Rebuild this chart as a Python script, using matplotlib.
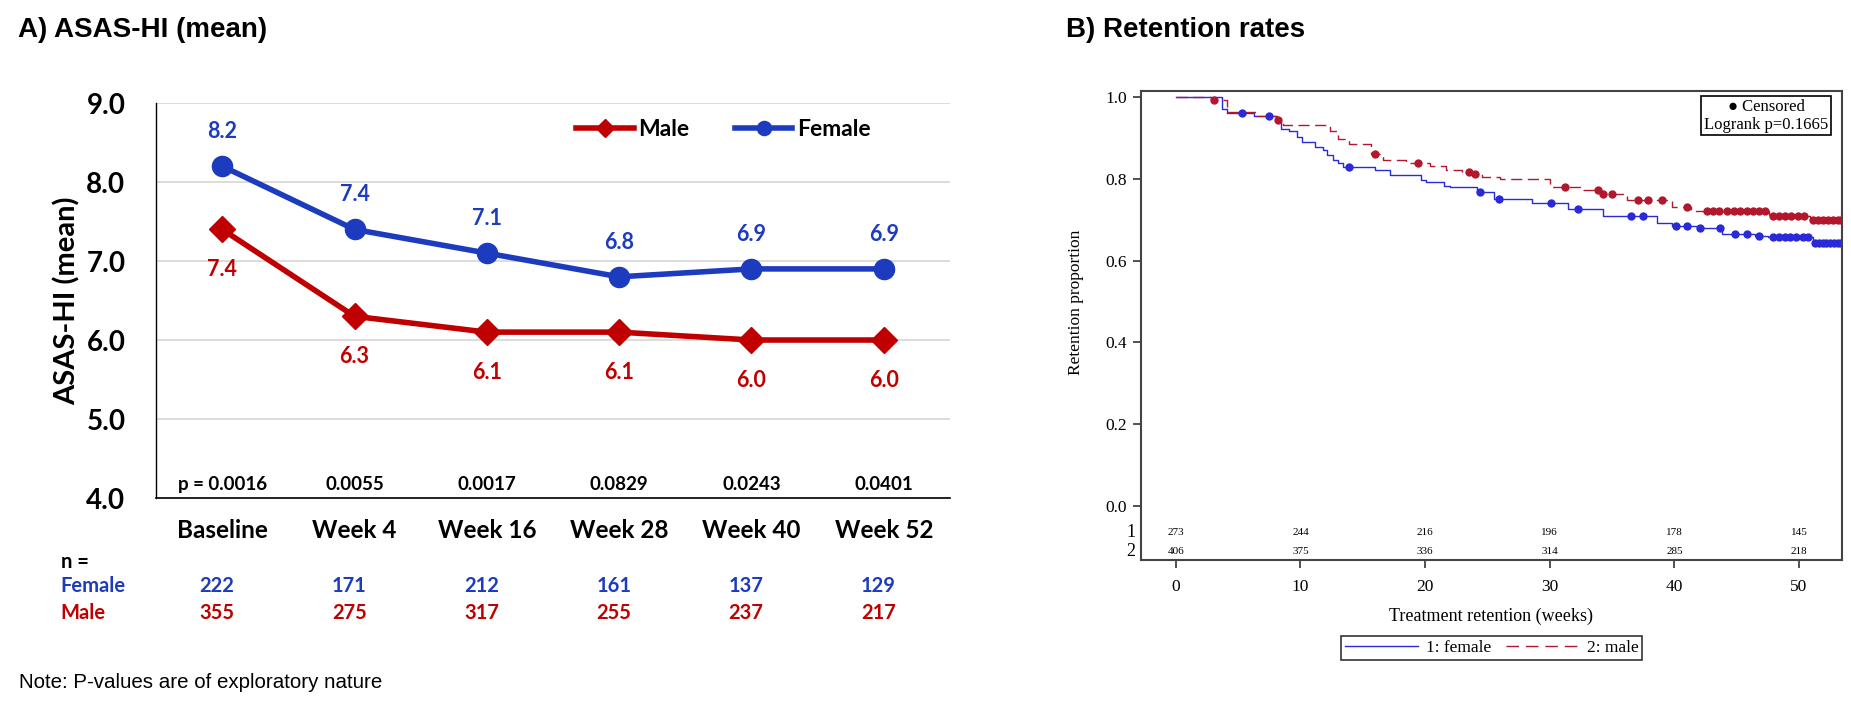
import numpy as np
import matplotlib.pyplot as plt
from matplotlib.lines import Line2D
from matplotlib.transforms import blended_transform_factory

###############################################################################
# Panel A data: ASAS-HI means by visit
visits = ['Baseline', 'Week 4', 'Week 16', 'Week 28', 'Week 40', 'Week 52']
male_mean = [7.4, 6.3, 6.1, 6.1, 6.0, 6.0]
female_mean = [8.2, 7.4, 7.1, 6.8, 6.9, 6.9]
p_values = ['p = 0.0016', '0.0055', '0.0017', '0.0829', '0.0243', '0.0401']
n_female = [222, 171, 212, 161, 137, 129]
n_male = [355, 275, 317, 255, 237, 217]

###############################################################################
# Panel B data: Kaplan-Meier retention
fem_t = [0, 3.7, 4.1, 6.3, 8.1, 8.4, 9.1, 9.7, 10.1, 11.2, 11.8, 12.1, 12.6,
         13.0, 13.4, 16.0, 17.2, 19.7, 20.1, 21.5, 22.0, 24.2, 25.5, 28.6,
         31.5, 34.3, 38.6, 39.8, 41.8, 43.8, 46.5, 47.5, 51.1]
fem_s = [1.0, 0.970, 0.962, 0.953, 0.940, 0.923, 0.918, 0.903, 0.891, 0.878,
         0.870, 0.858, 0.846, 0.838, 0.828, 0.823, 0.809, 0.797, 0.793, 0.782,
         0.779, 0.767, 0.752, 0.740, 0.726, 0.709, 0.693, 0.686, 0.680, 0.666,
         0.661, 0.657, 0.643]
fem_cens = [5.3, 7.5, 13.9, 24.4, 25.9, 30.1, 32.3, 36.5, 37.5, 40.1, 41.0,
            42.1, 43.7, 44.9, 45.8, 46.8, 47.9, 48.4, 48.9, 49.3, 49.8, 50.3,
            50.7, 51.3, 51.6, 51.9, 52.2, 52.5, 52.8, 53.1, 53.4]

male_t = [0, 2.8, 4.1, 6.5, 8.0, 8.6, 12.4, 13.0, 13.9, 15.7, 16.6, 18.5,
          20.4, 21.7, 23.0, 23.8, 24.6, 26.0, 30.0, 32.5, 34.1, 36.2, 39.8,
          41.3, 47.6, 50.9]
male_s = [1.0, 0.993, 0.963, 0.955, 0.944, 0.933, 0.917, 0.897, 0.886, 0.861,
          0.846, 0.840, 0.831, 0.823, 0.816, 0.811, 0.805, 0.799, 0.781, 0.773,
          0.763, 0.749, 0.732, 0.721, 0.710, 0.699]
male_cens = [3.05, 8.2, 16.0, 19.4, 23.5, 24.0, 31.2, 33.9, 34.3, 35.0, 37.1,
             37.9, 39.0, 41.0, 42.6, 43.1, 43.6, 44.2, 44.8, 45.3, 45.8, 46.3,
             46.8, 47.3, 47.9, 48.4, 48.9, 49.4, 49.9, 50.4, 51.1, 51.5, 51.9,
             52.3, 52.7, 53.1, 53.4]
km_end = 53.4

risk_weeks = [0, 10, 20, 30, 40, 50]
risk_female = [273, 244, 216, 196, 178, 145]
risk_male = [406, 375, 336, 314, 285, 218]
logrank_p = 0.1665

###############################################################################
# Styles
RED = '#C00000'
BLUE = '#1C3BBF'
KM_BLUE = '#2A2AD8'
KM_RED = '#B3172D'
CAL = ['Lato', 'DejaVu Sans']
NARROW = ['Liberation Sans', 'DejaVu Sans']
SERIF = ['Liberation Serif', 'DejaVu Serif']

fig = plt.figure(figsize=(18.51, 7.07), dpi=100)

fig.text(0.0097, 1 - 30 / 707, 'A) ASAS-HI (mean)', family=NARROW,
         fontweight='bold', fontsize=20, va='center')
fig.text(0.576, 1 - 30 / 707, 'B) Retention rates', family=NARROW,
         fontweight='bold', fontsize=20, va='center')
fig.text(0.0103, 1 - 682 / 707, 'Note: P-values are of exploratory nature',
         family=NARROW, fontsize=14.8, va='center')

###############################################################################
# Panel A
ax = fig.add_axes([0.0843, 0.2956, 0.4289, 0.5587])
x = np.arange(len(visits))

ax.plot(x, male_mean, color=RED, lw=4, marker='D', ms=13,
        label='Male', zorder=3, clip_on=False)
ax.plot(x, female_mean, color=BLUE, lw=4, marker='o', ms=14.5,
        label='Female', zorder=3, clip_on=False)

for i in x:
    ax.annotate(f'{female_mean[i]:.1f}', (i, female_mean[i]),
                xytext=(0, 25), textcoords='offset points', ha='center',
                va='center', color=BLUE, fontsize=15.5, fontweight='bold',
                family=CAL)
    ax.annotate(f'{male_mean[i]:.1f}', (i, male_mean[i]),
                xytext=(0, -29), textcoords='offset points', ha='center',
                va='center', color=RED, fontsize=15.5, fontweight='bold',
                family=CAL)
    ax.text(i, 4.17, p_values[i], ha='center', va='center', fontsize=13.5,
            fontweight='bold', family=CAL)

ax.set_xlim(-0.5, 5.5)
ax.set_ylim(4, 9)
ax.set_xticks(x)
ax.set_xticklabels(visits, family=CAL, fontweight='bold', fontsize=17.5)
ax.set_yticks(np.arange(4, 10))
ax.set_yticklabels([f'{v:.1f}' for v in np.arange(4, 10)], family=CAL,
                   fontweight='bold', fontsize=20)
ax.tick_params(axis='both', length=0)
ax.tick_params(axis='x', pad=15)
ax.tick_params(axis='y', pad=22)
ax.yaxis.grid(True, color='#D9D9D9', lw=1.3)
ax.set_axisbelow(True)
for side in ['top', 'right']:
    ax.spines[side].set_visible(False)
ax.spines['left'].set_linewidth(1.0)
ax.spines['bottom'].set_linewidth(1.2)
ax.set_ylabel('ASAS-HI (mean)', family=CAL, fontweight='bold', fontsize=21,
              labelpad=4)

ax.legend(loc='center left', bbox_to_anchor=(0.515, 0.934), ncol=2,
          frameon=False, borderpad=0, handlelength=2.5, handletextpad=0.2,
          columnspacing=2.0, markerscale=0.7,
          prop={'family': CAL, 'weight': 'bold', 'size': 16.5})

# sample sizes below the axis
tr = blended_transform_factory(ax.transData, ax.transAxes)
ax.text(-1.22, -0.162, 'n =', transform=tr, ha='left', va='center',
        fontsize=14.5, fontweight='bold', family=CAL)
ax.text(-1.22, -0.223, 'Female', transform=tr, ha='left', va='center',
        fontsize=14.5, fontweight='bold', family=CAL, color=BLUE)
ax.text(-1.22, -0.291, 'Male', transform=tr, ha='left', va='center',
        fontsize=14.5, fontweight='bold', family=CAL, color=RED)
for i in x:
    ax.text(i - 0.04, -0.223, str(n_female[i]), transform=tr, ha='center',
            va='center', fontsize=14.5, fontweight='bold', family=CAL,
            color=BLUE)
    ax.text(i - 0.04, -0.291, str(n_male[i]), transform=tr, ha='center',
            va='center', fontsize=14.5, fontweight='bold', family=CAL,
            color=RED)

###############################################################################
# Panel B
bx = fig.add_axes([0.6164, 0.2079, 0.3787, 0.6634])


def censor_y(t, s, cens):
    idx = np.searchsorted(t, cens, side='right') - 1
    return np.asarray(s)[idx]


bx.step(np.append(fem_t, km_end), np.append(fem_s, fem_s[-1]), where='post',
        color=KM_BLUE, lw=1.0)
bx.step(np.append(male_t, km_end), np.append(male_s, male_s[-1]),
        where='post', color=KM_RED, lw=1.0, dashes=(8, 4))
bx.plot(fem_cens, censor_y(fem_t, fem_s, fem_cens), 'o', color=KM_BLUE,
        ms=6, mec='none')
bx.plot(male_cens, censor_y(male_t, male_s, male_cens), 'o', color=KM_RED,
        ms=6, mec='none')

bx.set_xlim(-2.8, 53.45)
bx.set_ylim(-0.132, 1.015)
bx.set_xticks(risk_weeks)
bx.set_yticks(np.arange(0, 1.01, 0.2))
bx.set_yticklabels([f'{v:.1f}' for v in np.arange(0, 1.01, 0.2)])
for lab in bx.get_xticklabels() + bx.get_yticklabels():
    lab.set_family(SERIF)
    lab.set_fontsize(12.5)
bx.tick_params(axis='both', length=6, width=1.2, color='#333333')
bx.tick_params(axis='x', pad=8)
bx.tick_params(axis='y', pad=4)
for side in bx.spines.values():
    side.set_color('#444444')
    side.set_linewidth(1.5)

bx.set_xlabel('Treatment retention (weeks)', family=SERIF, fontsize=13,
              labelpad=9)
bx.set_ylabel('Retention proportion', family=SERIF, fontsize=12.5)
bx.yaxis.set_label_coords(-0.081, 0.55)

# number at risk rows
rtr = blended_transform_factory(bx.transAxes, bx.transData)
bx.text(-0.008, -0.064, '1', transform=rtr, ha='right', va='center',
        family=SERIF, fontsize=13)
bx.text(-0.008, -0.112, '2', transform=rtr, ha='right', va='center',
        family=SERIF, fontsize=13)
for w, nf, nm in zip(risk_weeks, risk_female, risk_male):
    bx.text(w, -0.064, str(nf), ha='center', va='center', family=SERIF,
            fontsize=8)
    bx.text(w, -0.112, str(nm), ha='center', va='center', family=SERIF,
            fontsize=8)

bx.text(0.8916, 0.983, f'\u25cf Censored\nLogrank p={logrank_p:.4f}',
        transform=bx.transAxes, ha='center', va='top', family=SERIF,
        fontsize=12, linespacing=1.15,
        bbox=dict(boxstyle='square,pad=0.15', fc='white', ec='black', lw=1.2))

handles = [Line2D([], [], color=KM_BLUE, lw=1.0),
           Line2D([], [], color=KM_RED, lw=1.0, dashes=(9, 5))]
leg = fig.legend(handles, ['1: female', '2: male'], loc='center',
                 bbox_to_anchor=(0.806, 0.0835), ncol=2, fancybox=False,
                 edgecolor='black', handlelength=4.2, handletextpad=0.5,
                 columnspacing=0.8, borderpad=0.2,
                 prop={'family': SERIF, 'size': 12.5})
leg.get_frame().set_linewidth(1.2)

fig.savefig('out.png', dpi=100)
